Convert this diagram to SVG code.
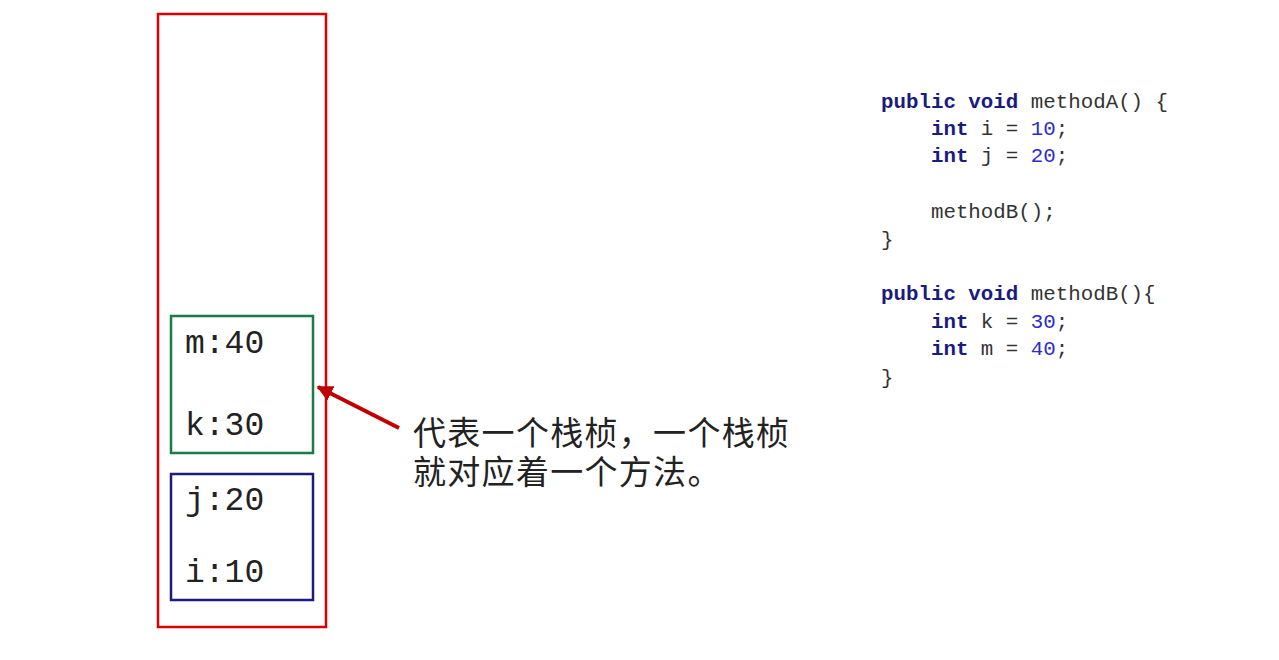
<svg xmlns="http://www.w3.org/2000/svg" width="1279" height="660" viewBox="0 0 1279 660">
<defs>
<style>
.mono{font-family:"Liberation Mono","DejaVu Sans Mono",monospace;font-size:33px;fill:#222}
.cn{font-family:"Noto Sans CJK SC","Noto Sans",sans-serif;font-size:33px;letter-spacing:1.3px;fill:#222}
.code{font-family:"Liberation Mono","DejaVu Sans Mono",monospace;font-size:20.8px;fill:#333}
.kw{font-weight:bold;fill:#1a1a80}
.num{fill:#2a2ad0}
</style>
<marker id="ah" viewBox="0 0 10 10" refX="9" refY="5" markerWidth="4" markerHeight="4" orient="auto" markerUnits="strokeWidth">
<path d="M0,0 L10,5 L0,10 z" fill="#c00000"/>
</marker>
</defs>
<rect width="1279" height="660" fill="#ffffff"/>
<g id="stack">
<rect x="158" y="14" width="168" height="613" fill="none" stroke="#d80000" stroke-width="2.5"/>
</g>
<g id="frameB">
<rect x="171" y="316" width="142" height="137" fill="none" stroke="#1a7a4a" stroke-width="2.5"/>
<text class="mono" x="185" y="353">m:40</text>
<text class="mono" x="185" y="435">k:30</text>
</g>
<g id="frameA">
<rect x="171" y="474" width="142" height="126" fill="none" stroke="#1a1a80" stroke-width="2.5"/>
<text class="mono" x="185" y="510">j:20</text>
<text class="mono" x="185" y="582">i:10</text>
</g>
<g id="connectors">
<line x1="399" y1="428" x2="318" y2="387" stroke="#c00000" stroke-width="4" marker-end="url(#ah)"/>
</g>
<g id="note">
<text class="cn" x="413" y="445"><tspan x="413" y="445">代表一个栈桢，一个栈桢</tspan><tspan x="413" y="484">就对应着一个方法。</tspan></text>
</g>
<g id="code">
<text class="code" xml:space="preserve" x="881" y="108"><tspan class="kw">public void</tspan> methodA() {</text>
<text class="code" xml:space="preserve" x="881" y="135">    <tspan class="kw">int</tspan> i = <tspan class="num">10</tspan>;</text>
<text class="code" xml:space="preserve" x="881" y="162">    <tspan class="kw">int</tspan> j = <tspan class="num">20</tspan>;</text>
<text class="code" xml:space="preserve" x="881" y="218">    methodB();</text>
<text class="code" xml:space="preserve" x="881" y="246">}</text>
<text class="code" xml:space="preserve" x="881" y="300"><tspan class="kw">public void</tspan> methodB(){</text>
<text class="code" xml:space="preserve" x="881" y="328">    <tspan class="kw">int</tspan> k = <tspan class="num">30</tspan>;</text>
<text class="code" xml:space="preserve" x="881" y="355">    <tspan class="kw">int</tspan> m = <tspan class="num">40</tspan>;</text>
<text class="code" xml:space="preserve" x="881" y="384">}</text>
</g>
</svg>
